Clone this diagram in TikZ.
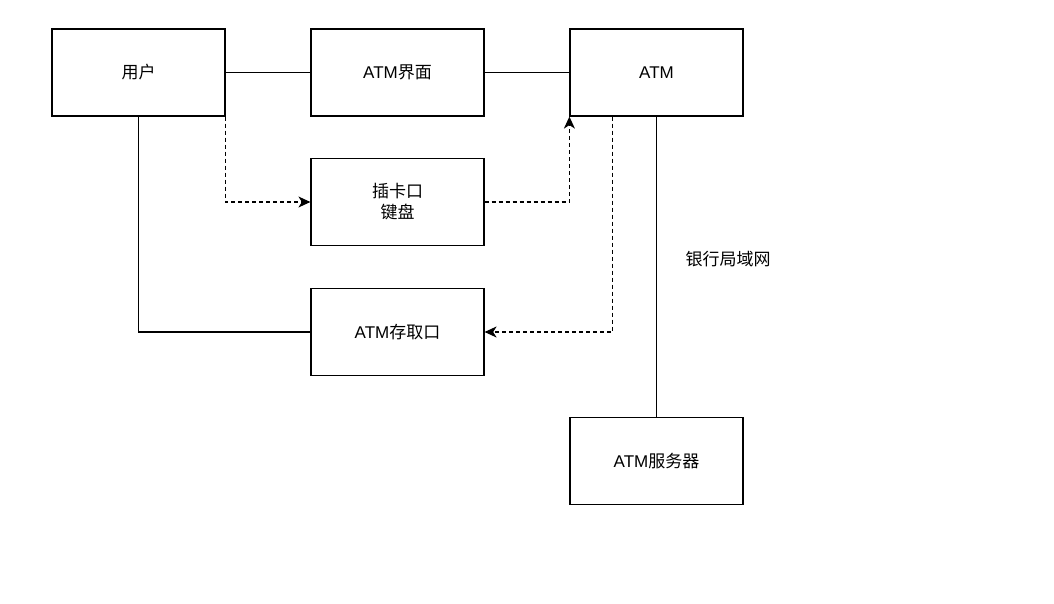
\documentclass[tikz,border=0pt]{standalone}
\usepackage{fontspec}
\setmainfont{Liberation Sans}
\newfontfamily\cjk{Noto Sans CJK SC}
\usetikzlibrary{arrows.meta}
\begin{document}
\begin{tikzpicture}[x=1pt,y=-1pt,
  box/.style={draw=black,line width=1.2pt,minimum width=173pt,minimum height=87pt,inner sep=0pt,font=\fontsize{17pt}{21pt}\selectfont,align=center},
  link/.style={draw=black,line width=1.2pt},
  dlink/.style={draw=black,line width=1.2pt,dash pattern=on 4pt off 3pt,-{Stealth[length=12pt,width=11pt,inset=3.5pt]}}]
\useasboundingbox (0,0) rectangle (1054,604);
\node[box] (user) at (138.5,72.5) {\cjk 用户};
\node[box] (ui) at (397.5,72.5) {ATM{\cjk 界面}};
\node[box] (atm) at (656.5,72.5) {ATM};
\node[box] (card) at (397.5,202) {{\cjk 插卡口}\\{\cjk 键盘}};
\node[box] (slot) at (397.5,332) {ATM{\cjk 存取口}};
\node[box] (srv) at (656.5,461) {ATM{\cjk 服务器}};
\node[font=\fontsize{17pt}{21pt}\selectfont] (lan) at (728,259) {\cjk 银行局域网};
\coordinate (c1) at (user.south east |- card.west);
\coordinate (c2) at (atm.south west |- card.east);
\coordinate (s3) at ([xshift=43pt]atm.south west);
\coordinate (c3) at (s3 |- slot.east);
\coordinate (c4) at (user.south |- slot.west);
\draw[link] (user.east) -- (ui.west);
\draw[link] (ui.east) -- (atm.west);
\draw[dlink] (user.south east) -- (c1) -- (card.west);
\draw[dlink] (card.east) -- (c2) -- (atm.south west);
\draw[dlink] (s3) -- (c3) -- (slot.east);
\draw[link] (user.south) -- (c4) -- (slot.west);
\draw[link] (atm.south) -- (srv.north);
\end{tikzpicture}
\end{document}
